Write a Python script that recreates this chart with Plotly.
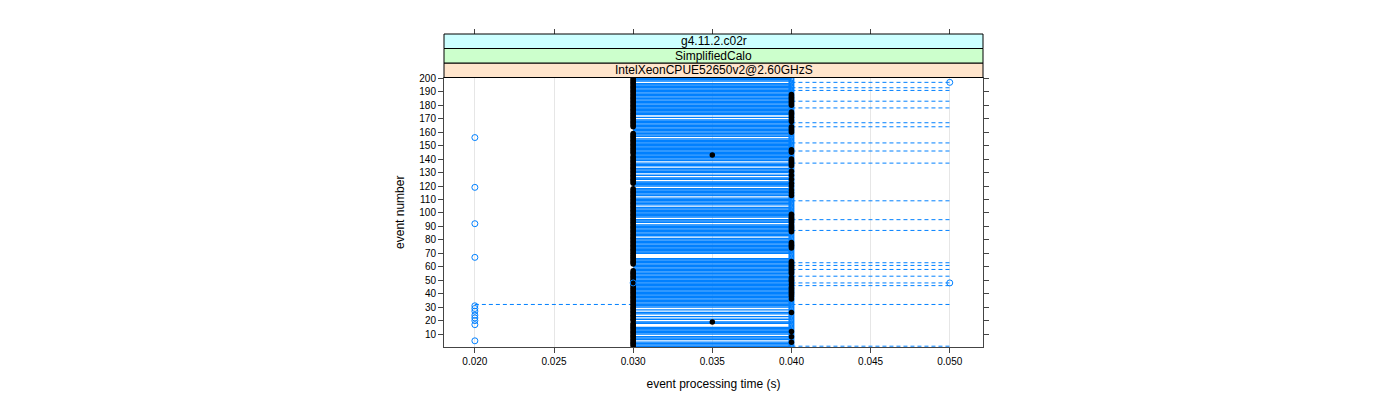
import plotly.graph_objects as go

EVENTS = list(range(1, 201))

# timer resolution is 10 ms, so all times sit on a few values
T_020, T_030, T_035, T_040, T_050 = 0.020, 0.030, 0.035, 0.040, 0.050

# events whose dashed range goes on to 0.050 s
TAIL_050 = [1, 32, 46, 48, 53, 58, 61, 63, 87, 95, 109, 137, 146, 152,
            164, 167, 178, 183, 191, 193, 197]
# events whose range starts at 0.020 s
TAIL_020 = [32]
# events with no 0.030-0.040 segment (white gaps in the band)
NO_CORE = [5, 9, 16, 17, 20, 22, 24, 27, 29, 67, 68, 69, 82, 92, 96, 105,
           112, 119, 124, 127, 129, 134, 138, 156, 170, 172, 197]

# black points
BLACK_035 = [19, 143]
BLACK_040 = [4, 8, 12, 26, 36, 38, 39, 40, 41, 42, 43, 44, 45, 47, 49, 50,
             51, 52, 55, 56, 57, 58, 59, 60, 61, 62, 63, 64, 74, 75, 76, 77,
             78, 86, 87, 88, 89, 90, 91, 93, 94, 95, 96, 97, 98, 99, 113,
             115, 117, 120, 122, 125, 128, 131, 135, 136, 137, 138, 139, 140,
             145, 146, 147, 160, 161, 162, 163, 164, 168, 169, 171, 173, 174,
             175, 180, 181, 182, 183, 184, 185, 186, 187, 188]
NOT_BLACK_030 = [19, 58, 59, 60, 61, 119, 120, 121, 143, 160, 161, 162, 163]

# blue open circles away from 0.040
BLUE_020 = [5, 17, 20, 22, 24, 27, 29, 31, 67, 92, 119, 156]
BLUE_030 = [48]
BLUE_050 = [48, 197]

BLUE = "#0080ff"
FONT = "Liberation Sans, Arial, sans-serif"


def segments(pairs):
    xs, ys = [], []
    for e, a, b in pairs:
        xs += [a, b, None]
        ys += [e, e, None]
    return xs, ys


core = [(e, T_030, T_040) for e in EVENTS if e not in NO_CORE]
tails = [(e, T_040, T_050) for e in TAIL_050] + [(e, T_020, T_030) for e in TAIL_020]

fig = go.Figure()

cx, cy = segments(core)
fig.add_trace(go.Scatter(x=cx, y=cy, mode="lines",
                         line=dict(color=BLUE, width=1.4), hoverinfo="skip"))
tx, ty = segments(tails)
fig.add_trace(go.Scatter(x=tx, y=ty, mode="lines",
                         line=dict(color=BLUE, width=1, dash="4px,3px"),
                         hoverinfo="skip"))

# blue circles at 0.040 (under the black points)
fig.add_trace(go.Scatter(
    x=[T_040] * len(EVENTS), y=EVENTS, mode="markers",
    marker=dict(symbol="circle-open", size=5, color=BLUE, line=dict(width=1)),
))

black_x = [T_030 for e in EVENTS if e not in NOT_BLACK_030] + \
    [T_035] * len(BLACK_035) + [T_040] * len(BLACK_040)
black_y = [e for e in EVENTS if e not in NOT_BLACK_030] + BLACK_035 + BLACK_040
fig.add_trace(go.Scatter(x=black_x, y=black_y, mode="markers",
                         marker=dict(symbol="circle", size=5.5, color="black")))

fig.add_trace(go.Scatter(
    x=[T_020] * len(BLUE_020) + [T_030] * len(BLUE_030) + [T_050] * len(BLUE_050),
    y=BLUE_020 + BLUE_030 + BLUE_050, mode="markers",
    marker=dict(symbol="circle-open", size=6, color=BLUE, line=dict(width=1)),
))

# strips above the panel
top = 0.861
h = (1 - top) / 3
strips = [("IntelXeonCPUE52650v2@2.60GHzS", "#ffe5cc"),
          ("SimplifiedCalo", "#ccffcc"),
          ("g4.11.2.c02r", "#ccffff")]
for i, (label, col) in enumerate(strips):
    y0 = top + i * h
    fig.add_shape(type="rect", xref="paper", yref="paper", x0=0, x1=1,
                  y0=y0, y1=y0 + h, fillcolor=col, line=dict(color="black", width=1))
    fig.add_annotation(xref="paper", yref="paper", x=0.5, y=y0 + h / 2,
                       xanchor="center", yanchor="middle",
                       text=label, showarrow=False,
                       font=dict(family=FONT, size=12, color="black"))

xr = [0.01805, 0.0521]
fig.update_layout(
    width=1400, height=400,
    # page body adds an 8px offset, so margins are shifted to compensate
    margin=dict(l=436, r=425, t=26, b=61),
    paper_bgcolor="white", plot_bgcolor="white",
    showlegend=False,
    font=dict(family=FONT, size=10, color="black"),
    xaxis=dict(range=xr, tick0=0.02, dtick=0.005, tickformat=".3f",
               automargin=False,
               showgrid=True, gridcolor="#e6e6e6", zeroline=False,
               showline=True, linecolor="#444", mirror=True,
               ticks="outside", ticklen=5, tickcolor="#444",
               title=dict(text="event processing time (s)", font=dict(size=12),
                          standoff=13)),
    xaxis2=dict(range=xr, overlaying="x", side="top", anchor="free",
                automargin=False,
                position=1, tick0=0.02, dtick=0.005, showticklabels=False,
                showgrid=False, zeroline=False, ticks="outside", ticklen=5,
                tickcolor="#444"),
    yaxis=dict(range=[0.4, 200.6], domain=[0, top], tick0=10, dtick=10,
               automargin=False,
               showgrid=False, zeroline=False,
               showline=True, linecolor="#444", mirror="ticks",
               ticks="outside", ticklen=5, tickcolor="#444",
               title=dict(text="event number", font=dict(size=12), standoff=12)),
)
# dummy trace so the top axis is drawn
fig.add_trace(go.Scatter(x=[None], y=[None], xaxis="x2", hoverinfo="skip"))

fig.write_html("out.html")
